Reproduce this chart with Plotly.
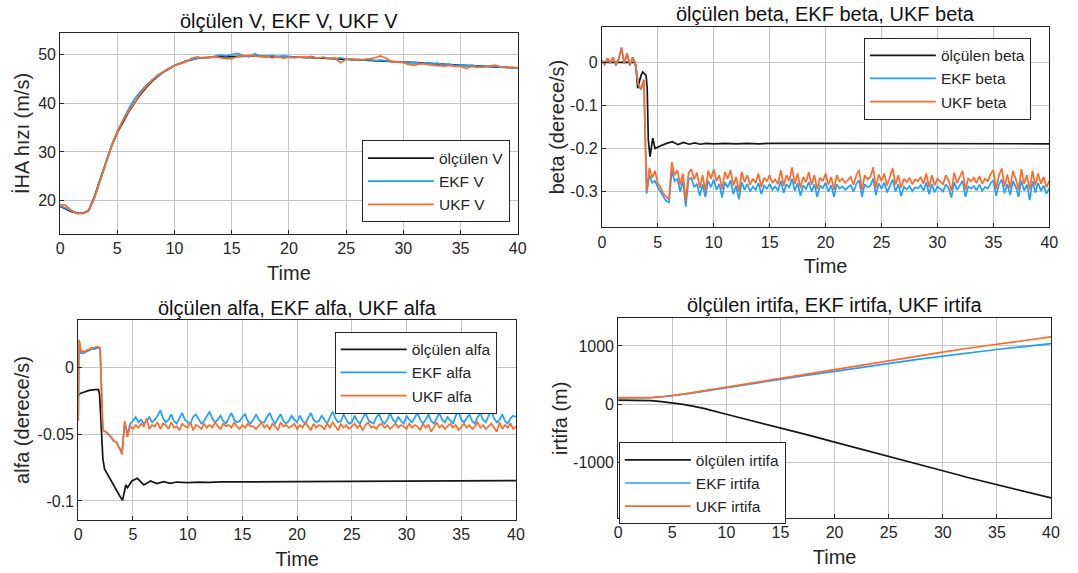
import plotly.graph_objects as go

# ---------------- time bases ----------------
t_fine = [
    0, 0.25, 0.5, 0.75, 1, 1.25, 1.5, 1.75, 2, 2.25, 2.5, 2.75, 3, 3.25, 3.5, 3.75,
    4, 4.25, 4.5, 4.75, 5, 5.25, 5.5, 5.75, 6, 6.25, 6.5, 6.75, 7, 7.25, 7.5, 7.75,
    8, 8.25, 8.5, 8.75, 9, 9.25, 9.5, 9.75, 10, 10.25, 10.5, 10.75, 11, 11.25, 11.5, 11.75,
    12, 12.25, 12.5, 12.75, 13, 13.25, 13.5, 13.75, 14, 14.25, 14.5, 14.75, 15, 15.25, 15.5, 15.75,
    16, 16.25, 16.5, 16.75, 17, 17.25, 17.5, 17.75, 18, 18.25, 18.5, 18.75, 19, 19.25, 19.5, 19.75,
    20, 20.25, 20.5, 20.75, 21, 21.25, 21.5, 21.75, 22, 22.25, 22.5, 22.75, 23, 23.25, 23.5, 23.75,
    24, 24.25, 24.5, 24.75, 25, 25.25, 25.5, 25.75, 26, 26.25, 26.5, 26.75, 27, 27.25, 27.5, 27.75,
    28, 28.25, 28.5, 28.75, 29, 29.25, 29.5, 29.75, 30, 30.25, 30.5, 30.75, 31, 31.25, 31.5, 31.75,
    32, 32.25, 32.5, 32.75, 33, 33.25, 33.5, 33.75, 34, 34.25, 34.5, 34.75, 35, 35.25, 35.5, 35.75,
    36, 36.25, 36.5, 36.75, 37, 37.25, 37.5, 37.75, 38, 38.25, 38.5, 38.75, 39, 39.25, 39.5, 39.75,
    40,
]

t_half = [
    0, 0.5, 1, 1.5, 2, 2.5, 3, 3.5, 4, 4.5, 5, 5.5, 6, 6.5, 7, 7.5, 8, 8.5, 9, 9.5,
    10, 10.5, 11, 11.5, 12, 12.5, 13, 13.5, 14, 14.5, 15, 15.5, 16, 16.5, 17, 17.5, 18, 18.5, 19, 19.5,
    20, 20.5, 21, 21.5, 22, 22.5, 23, 23.5, 24, 24.5, 25, 25.5, 26, 26.5, 27, 27.5, 28, 28.5, 29, 29.5,
    30, 30.5, 31, 31.5, 32, 32.5, 33, 33.5, 34, 34.5, 35, 35.5, 36, 36.5, 37, 37.5, 38, 38.5, 39, 39.5,
    40,
]

# ---------------- V (speed) ----------------
t_v_meas = [0, 0.5, 1, 1.5, 2, 2.5, 3, 3.5, 4, 4.5, 5, 5.5, 6, 6.5, 7, 7.5, 8, 8.5, 9, 9.5,
            10, 11, 12, 13, 14, 15, 16, 17, 18, 19, 20, 22, 24, 26, 28, 30, 32, 34, 36, 38, 40]
v_meas = [18.8, 18.3, 17.7, 17.4, 17.4, 18.0, 20.8, 24.4, 28.0, 31.2, 34.0, 36.3, 38.3, 40.1, 41.8, 43.2,
          44.5, 45.5, 46.4, 47.1, 47.8, 48.7, 49.3, 49.5, 49.6, 49.7, 49.8, 49.8, 49.7, 49.7, 49.6,
          49.4, 49.2, 49.0, 48.8, 48.5, 48.3, 48.0, 47.8, 47.6, 47.3]
v_ekf = [18.9, 18.4, 17.8, 17.4, 17.4, 18.0, 20.7, 24.3, 28.1, 31.4, 34.3, 36.7, 38.9, 40.9, 42.4, 43.6,
         44.8, 45.6, 46.4, 47.2, 47.8, 48.3, 48.7, 49.0, 49.3, 49.5, 49.4, 49.7, 50.0, 49.8, 50.1, 50.3,
         49.9, 49.6, 50.2, 49.8, 49.6, 49.9, 49.6, 49.8, 49.7, 49.5, 49.6, 49.4, 49.6, 49.3, 49.5, 49.3,
         49.2, 49.4, 49.1, 48.9, 49.1, 48.9, 49.0, 48.8, 48.9, 48.7, 48.6, 48.5, 48.6, 48.3, 48.5, 48.2,
         48.4, 48.1, 48.3, 47.9, 48.1, 47.8, 47.9, 47.7, 47.9, 47.6, 47.8, 47.6, 47.7, 47.4, 47.6, 47.2,
         47.3]
v_ukf = [19.2, 19.0, 17.9, 17.3, 17.3, 17.8, 20.5, 24.2, 27.9, 31.2, 34.1, 36.5, 38.4, 40.3, 42.0, 43.4,
         44.7, 45.8, 46.5, 47.1, 47.8, 48.2, 48.6, 49.3, 49.6, 49.3, 49.4, 49.6, 49.4, 49.2, 49.2, 49.6,
         49.8, 49.9, 49.8, 49.6, 49.7, 49.4, 49.6, 49.3, 49.5, 49.4, 49.6, 49.5, 49.7, 49.3, 49.5, 49.2,
         49.4, 48.4, 49.1, 49.2, 48.9, 49.0, 49.2, 49.4, 49.8, 49.3, 48.6, 48.5, 48.4, 48.0, 47.9, 48.2,
         48.0, 47.9, 47.8, 47.7, 47.8, 47.6, 47.6, 47.2, 47.6, 47.4, 47.5, 47.7, 47.9, 47.6, 47.4, 47.5,
         47.3]

# ---------------- beta ----------------
t_beta_meas = [0, 1, 2, 2.95, 3.05, 3.2, 3.35, 3.5, 3.65, 3.8, 3.95, 4.05, 4.15, 4.3, 4.45, 4.55,
               4.75, 4.95, 5.3, 5.8, 6.3, 6.8, 7.3, 7.8, 8.3, 8.8, 9.3, 10, 11, 12, 13, 14, 15,
               20, 25, 30, 35, 40]
beta_meas = [0.0, 0.0, 0.0, 0.0, -0.010, -0.060, -0.045, -0.030, -0.022, -0.025, -0.030, -0.060,
             -0.180, -0.219, -0.195, -0.176, -0.200, -0.197, -0.193, -0.188, -0.184, -0.191, -0.186,
             -0.190, -0.187, -0.190, -0.188, -0.189, -0.188, -0.189, -0.188, -0.189, -0.188, -0.188,
             -0.188, -0.189, -0.189, -0.189]
beta_ekf = [
    0.004, -0.005, 0.009, -0.001, 0.011, -0.007, 0.007, 0.033, -0.003, 0.020, -0.007, 0.011,
    -0.005, -0.051, -0.063, -0.041, -0.305, -0.262, -0.280, -0.275, -0.290, -0.300, -0.312, -0.322,
    -0.325, -0.250, -0.276, -0.270, -0.300, -0.275, -0.335, -0.272, -0.268, -0.290, -0.282, -0.310,
    -0.283, -0.312, -0.275, -0.290, -0.272, -0.296, -0.282, -0.314, -0.278, -0.290, -0.274, -0.306,
    -0.286, -0.318, -0.278, -0.296, -0.282, -0.300, -0.288, -0.296, -0.280, -0.306, -0.286, -0.293,
    -0.282, -0.296, -0.288, -0.298, -0.275, -0.303, -0.283, -0.291, -0.270, -0.298, -0.280, -0.310,
    -0.286, -0.294, -0.278, -0.300, -0.283, -0.312, -0.286, -0.292, -0.279, -0.300, -0.285, -0.312,
    -0.283, -0.293, -0.288, -0.296, -0.290, -0.285, -0.300, -0.282, -0.274, -0.312, -0.283, -0.290,
    -0.286, -0.270, -0.308, -0.281, -0.293, -0.279, -0.302, -0.286, -0.272, -0.300, -0.283, -0.310,
    -0.289, -0.295, -0.287, -0.299, -0.290, -0.293, -0.285, -0.298, -0.279, -0.306, -0.283, -0.302,
    -0.288, -0.294, -0.300, -0.283, -0.292, -0.314, -0.278, -0.296, -0.285, -0.275, -0.312, -0.288,
    -0.293, -0.287, -0.297, -0.284, -0.298, -0.289, -0.293, -0.281, -0.274, -0.310, -0.283, -0.272,
    -0.304, -0.282, -0.308, -0.276, -0.289, -0.312, -0.274, -0.298, -0.284, -0.320, -0.276, -0.302,
    -0.280, -0.298, -0.286, -0.305, -0.292,
]
beta_ukf = [
    0.005, -0.004, 0.010, 0.000, 0.012, -0.006, 0.008, 0.035, -0.002, 0.022, -0.006, 0.012,
    -0.004, -0.050, -0.062, -0.040, -0.300, -0.245, -0.268, -0.252, -0.282, -0.290, -0.305, -0.312,
    -0.318, -0.232, -0.262, -0.250, -0.284, -0.258, -0.322, -0.256, -0.248, -0.272, -0.256, -0.292,
    -0.262, -0.298, -0.252, -0.270, -0.248, -0.276, -0.262, -0.295, -0.255, -0.270, -0.250, -0.286,
    -0.266, -0.300, -0.254, -0.278, -0.262, -0.284, -0.270, -0.280, -0.258, -0.290, -0.268, -0.276,
    -0.262, -0.280, -0.272, -0.283, -0.250, -0.287, -0.262, -0.275, -0.244, -0.282, -0.258, -0.292,
    -0.266, -0.278, -0.255, -0.284, -0.262, -0.294, -0.268, -0.276, -0.258, -0.284, -0.266, -0.296,
    -0.262, -0.276, -0.270, -0.280, -0.272, -0.266, -0.284, -0.262, -0.250, -0.296, -0.262, -0.272,
    -0.266, -0.244, -0.292, -0.260, -0.276, -0.258, -0.286, -0.268, -0.246, -0.284, -0.262, -0.292,
    -0.270, -0.278, -0.268, -0.283, -0.272, -0.276, -0.266, -0.282, -0.258, -0.290, -0.262, -0.286,
    -0.270, -0.277, -0.283, -0.262, -0.274, -0.298, -0.256, -0.280, -0.264, -0.252, -0.296, -0.270,
    -0.276, -0.268, -0.280, -0.264, -0.282, -0.270, -0.276, -0.260, -0.250, -0.294, -0.262, -0.246,
    -0.288, -0.260, -0.292, -0.252, -0.270, -0.296, -0.248, -0.282, -0.262, -0.296, -0.252, -0.286,
    -0.258, -0.282, -0.266, -0.290, -0.275,
]

# ---------------- alfa ----------------
t_alfa_meas = [0, 0.05, 0.3, 1.0, 1.5, 1.85, 1.95, 2.1, 2.25, 2.4, 2.8, 3.25, 3.6, 3.85, 4.05,
               4.2, 4.35, 4.5, 4.9, 5.4, 6.0, 6.6, 7.2, 7.8, 8.4, 9.0, 10, 11, 12, 13, 14, 15,
               20, 25, 30, 35, 40]
alfa_meas = [-0.022, -0.020, -0.019, -0.017, -0.0165, -0.0165, -0.020, -0.045, -0.068, -0.076,
             -0.082, -0.0878, -0.093, -0.097, -0.0995, -0.093, -0.088, -0.090, -0.085, -0.083,
             -0.088, -0.085, -0.087, -0.0855, -0.0868, -0.0858, -0.0862, -0.0858, -0.0861, -0.0857,
             -0.0859, -0.0857, -0.0855, -0.0853, -0.0852, -0.085, -0.0848]
t_alfa = [0, 0.08] + t_fine[1:]
alfa_ekf = [
    -0.040, 0.020, 0.011, 0.011, 0.012, 0.013, 0.014, 0.014, 0.015, 0.014, -0.047, -0.048, -0.050,
    -0.052, -0.055, -0.056, -0.060, -0.064, -0.041, -0.050, -0.042,
    -0.040, -0.037, -0.041, -0.039, -0.042, -0.040, -0.037, -0.041, -0.039, -0.036, -0.032, -0.038,
    -0.041, -0.039, -0.035, -0.040, -0.042, -0.038, -0.034, -0.039, -0.041, -0.042, -0.037, -0.035,
    -0.039, -0.042, -0.040, -0.036, -0.033, -0.038, -0.041, -0.039, -0.036, -0.040, -0.042, -0.038,
    -0.034, -0.039, -0.041, -0.040, -0.037, -0.035, -0.040, -0.042, -0.039, -0.035, -0.039, -0.041,
    -0.041, -0.037, -0.034, -0.039, -0.042, -0.038, -0.035, -0.040, -0.042, -0.040, -0.036, -0.039,
    -0.041, -0.036, -0.040, -0.042, -0.038, -0.034, -0.039, -0.041, -0.040, -0.036, -0.039, -0.042,
    -0.037, -0.033, -0.038, -0.041, -0.040, -0.035, -0.039, -0.042, -0.041, -0.036, -0.040, -0.042,
    -0.038, -0.034, -0.039, -0.041, -0.042, -0.037, -0.035, -0.040, -0.042, -0.039, -0.034, -0.039,
    -0.041, -0.037, -0.040, -0.042, -0.036, -0.039, -0.041, -0.038, -0.034, -0.039, -0.042, -0.039,
    -0.035, -0.040, -0.042, -0.038, -0.034, -0.039, -0.041, -0.037, -0.040, -0.042, -0.036, -0.033,
    -0.039, -0.041, -0.038, -0.035, -0.040, -0.042, -0.037, -0.034, -0.039, -0.041, -0.036, -0.032,
    -0.038, -0.041, -0.039, -0.035, -0.040, -0.042, -0.038, -0.036, -0.037,
]
alfa_ukf = [
    -0.040, 0.021, 0.013, 0.012, 0.013, 0.014, 0.015, 0.015, 0.016, 0.015, -0.047, -0.048, -0.050,
    -0.052, -0.055, -0.056, -0.060, -0.065, -0.040, -0.052, -0.044,
    -0.046, -0.043, -0.045, -0.042, -0.044, -0.038, -0.046, -0.043, -0.044, -0.041, -0.046, -0.042,
    -0.043, -0.046, -0.041, -0.045, -0.044, -0.047, -0.042, -0.044, -0.045, -0.041, -0.047, -0.043,
    -0.044, -0.046, -0.042, -0.045, -0.043, -0.045, -0.041, -0.044, -0.046, -0.042, -0.044, -0.043,
    -0.045, -0.041, -0.044, -0.046, -0.043, -0.045, -0.042, -0.044, -0.044, -0.046, -0.043, -0.041,
    -0.045, -0.043, -0.046, -0.042, -0.044, -0.047, -0.041, -0.044, -0.043, -0.045, -0.044, -0.042,
    -0.046, -0.043, -0.045, -0.041, -0.044, -0.047, -0.042, -0.045, -0.043, -0.044, -0.046, -0.042,
    -0.045, -0.041, -0.044, -0.047, -0.042, -0.045, -0.043, -0.046, -0.044, -0.042, -0.045, -0.043,
    -0.047, -0.043, -0.041, -0.045, -0.044, -0.046, -0.043, -0.042, -0.045, -0.043, -0.046, -0.044,
    -0.042, -0.045, -0.043, -0.044, -0.046, -0.042, -0.045, -0.043, -0.044, -0.047, -0.042, -0.045,
    -0.043, -0.048, -0.044, -0.041, -0.045, -0.043, -0.046, -0.044, -0.042, -0.045, -0.043, -0.047,
    -0.044, -0.042, -0.045, -0.043, -0.046, -0.044, -0.041, -0.045, -0.043, -0.046, -0.044, -0.042,
    -0.045, -0.048, -0.041, -0.046, -0.043, -0.045, -0.042, -0.046, -0.044,
]

# ---------------- irtifa (altitude) ----------------
t_alt = [0, 1, 2, 3, 4, 5, 6, 7, 8, 10, 12.5, 15, 17.5, 20, 22.5, 25, 27.5, 30, 32.5, 35, 37.5, 40]
alt_meas = [70, 70, 68, 62, 45, 28, 0, -35, -75, -171, -285, -400, -525, -650, -770, -890, -1015,
            -1140, -1265, -1380, -1495, -1605]
alt_ekf = [110, 110, 110, 112, 125, 145, 168, 195, 225, 285, 360, 430, 500, 565, 635, 700, 765,
           825, 885, 940, 990, 1040]
alt_ukf = [114, 114, 114, 116, 130, 150, 175, 205, 235, 300, 380, 455, 530, 605, 680, 750, 825,
           895, 965, 1030, 1095, 1155]

# ---------------- text ----------------
titles = ["ölçülen V, EKF V, UKF V", "ölçülen beta, EKF beta, UKF beta",
          "ölçülen alfa, EKF alfa, UKF alfa", "ölçülen irtifa, EKF irtifa, UKF irtifa"]
ylabels = ["İHA hızı (m/s)", "beta (derece/s)", "alfa (derece/s)", "irtifa (m)"]
names = [["ölçülen V", "EKF V", "UKF V"],
         ["ölçülen beta", "EKF beta", "UKF beta"],
         ["ölçülen alfa", "EKF alfa", "UKF alfa"],
         ["ölçülen irtifa", "EKF irtifa", "UKF irtifa"]]
x_ticks = [0, 5, 10, 15, 20, 25, 30, 35, 40]
y_tickvals = [[20, 30, 40, 50], [0, -0.1, -0.2, -0.3], [0, -0.05, -0.1], [1000, 0, -1000]]
y_ticktext = [["20", "30", "40", "50"], ["0", "-0.1", "-0.2", "-0.3"], ["0", "-0.05", "-0.1"],
              ["1000", "0", "-1000"]]

# ---------------- styling ----------------
FONT = "Arial, 'Liberation Sans', Helvetica, sans-serif"
C_BLACK = "#161616"
C_BLUE = "#1f9fff"
C_ORANGE = "#ff6a2a"
AX = "#262626"
GRID = "#c6c6c6"

x_dom = [[0.0527, 0.4824], [0.5614, 0.9815], [0.0697, 0.4807], [0.5767, 0.9831]]
y_dom = [[0.5916, 0.9424], [0.6033, 0.9534], [0.0925, 0.4415], [0.0955, 0.4445]]
y_rng = [[13.1, 54.5], [-0.383, 0.083], [-0.1143, 0.0358], [-1955, 1475]]
leg_pos = [(0.3361, 0.7548), (0.8074, 0.9342), (0.3105, 0.4211), (0.5773, 0.2281)]
title_y = [0.9625, 0.9762, 0.4630, 0.4677]
y_standoff = [3, 0, 2, 0]

series = [
    [(t_v_meas, v_meas), (t_half, v_ekf), (t_half, v_ukf)],
    [(t_beta_meas, beta_meas), (t_fine, beta_ekf), (t_fine, beta_ukf)],
    [(t_alfa_meas, alfa_meas), (t_alfa, alfa_ekf), (t_alfa, alfa_ukf)],
    [(t_alt, alt_meas), (t_alt, alt_ekf), (t_alt, alt_ukf)],
]
colors = [C_BLACK, C_BLUE, C_ORANGE]

fig = go.Figure()
layout = dict(
    width=1078, height=573, margin=dict(l=0, r=0, t=0, b=0),
    paper_bgcolor="white", plot_bgcolor="white",
    font=dict(family=FONT, color=AX, size=16),
    annotations=[],
)

for k in range(4):
    sfx = "" if k == 0 else str(k + 1)
    leg = "legend" + sfx
    for j in range(3):
        xs, ys = series[k][j]
        fig.add_trace(go.Scatter(
            x=xs, y=ys, mode="lines", name=names[k][j],
            line=dict(color=colors[j], width=1.7),
            xaxis="x" + sfx, yaxis="y" + sfx, legend=leg,
        ))
    layout["xaxis" + sfx] = dict(
        domain=x_dom[k], anchor="y" + sfx, range=[0, 40], tickvals=x_ticks,
        showline=True, mirror=True, linecolor=AX, linewidth=1,
        ticks="inside", ticklen=4, tickcolor=AX,
        showgrid=True, gridcolor=GRID, gridwidth=1, zeroline=False,
        tickfont=dict(size=16, color=AX),
        title=dict(text="Time", font=dict(size=20, color=AX), standoff=9),
    )
    layout["yaxis" + sfx] = dict(
        domain=y_dom[k], anchor="x" + sfx, range=y_rng[k],
        tickvals=y_tickvals[k], ticktext=y_ticktext[k],
        showline=True, mirror=True, linecolor=AX, linewidth=1,
        ticks="inside", ticklen=4, tickcolor=AX,
        showgrid=True, gridcolor=GRID, gridwidth=1, zeroline=False,
        tickfont=dict(size=16, color=AX),
        title=dict(text=ylabels[k], font=dict(size=20, color=AX), standoff=y_standoff[k]),
    )
    layout[leg] = dict(
        x=leg_pos[k][0], y=leg_pos[k][1], xanchor="left", yanchor="top",
        bgcolor="white", bordercolor=AX, borderwidth=1,
        font=dict(size=15.5, color=AX, family=FONT), itemwidth=66,
        tracegroupgap=0,
    )
    layout["annotations"].append(dict(
        text=titles[k], xref="paper", yref="paper",
        x=(x_dom[k][0] + x_dom[k][1]) / 2, y=title_y[k],
        xanchor="center", yanchor="middle", showarrow=False,
        font=dict(size=20, color="#111111", family=FONT),
    ))

fig.update_layout(**layout)
fig.write_html("out.html")
